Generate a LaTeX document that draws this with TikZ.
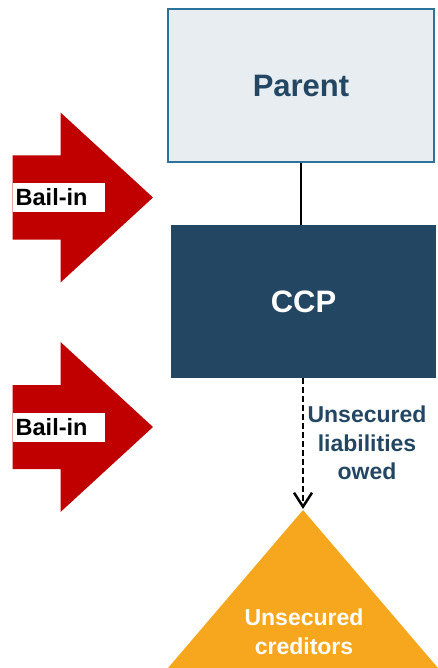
\documentclass[tikz,border=0pt]{standalone}
\usepackage{fontspec}
\setmainfont{Liberation Sans}
\usetikzlibrary{arrows.meta}

\definecolor{ccpblue}{HTML}{234762}
\definecolor{parentfill}{HTML}{E8EDF1}
\definecolor{parentline}{HTML}{2B729C}
\definecolor{bailred}{HTML}{C00000}
\definecolor{credorange}{HTML}{F6A71E}

\begin{document}
\begin{tikzpicture}[x=1pt,y=-1pt,
    entity/.style={minimum width=266pt, minimum height=153pt, inner sep=0pt,
      font=\fontsize{31}{36}\selectfont\bfseries},
    bailtag/.style={fill=white, anchor=west, minimum height=29pt, inner xsep=3pt,
      inner ysep=0pt, text width=86pt, align=left,
      font=\fontsize{23.5}{27}\selectfont\bfseries},
    owed/.style={-{Straight Barb[length=14pt,width=18pt]}, line width=2.5pt,
      dash pattern=on 6pt off 3pt}]
  \useasboundingbox (0,0) rectangle (438,668);

  % the two firms
  \node[entity, draw=parentline, line width=1.5pt, fill=parentfill, text=ccpblue]
    (parent) at (301,85.5) {Parent};
  \node[entity, fill=ccpblue, text=white, minimum width=265pt]
    (ccp) at (303.5,301.5) {CCP};
  \draw[line width=2pt] (parent.south) -- (parent.south |- ccp.north);

  % creditors
  \fill[credorange] (303,510) coordinate (apex) -- (438,668) -- (168,668) -- cycle;
  \node[align=center, text=white, font=\fontsize{23}{29}\selectfont\bfseries]
    (cred) at (304,632) {Unsecured\\creditors};
  \draw[owed, shorten >=1pt] (apex |- ccp.south) -- (apex);
  \node[align=center, text=ccpblue, font=\fontsize{23}{28.5}\selectfont\bfseries]
    (liab) at (367,443) {Unsecured\\liabilities\\owed};

  % bail-in arrows
  \foreach \n/\y in {1/197.5, 2/427} {
    \fill[bailred] (12.5,\y-42) -- (60.5,\y-42) -- (60.5,\y-85) -- (153,\y)
      -- (60.5,\y+85) -- (60.5,\y+42) -- (12.5,\y+42) -- cycle;
    \node[bailtag] (bail\n) at (12.5,\y) {Bail-in};
  }
\end{tikzpicture}
\end{document}
